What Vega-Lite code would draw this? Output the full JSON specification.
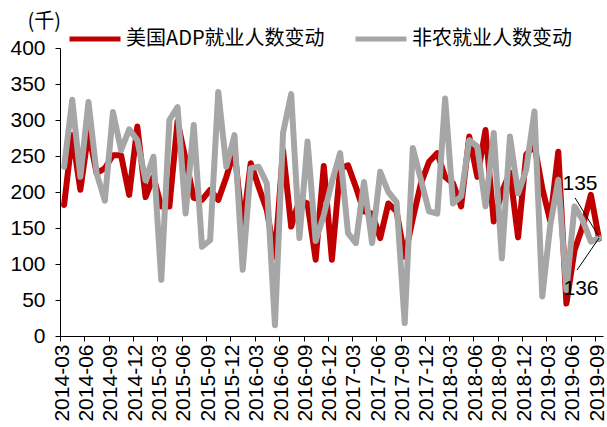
{
  "$schema": "https://vega.github.io/schema/vega-lite/v6.json",
  "width": 543,
  "height": 288,
  "autosize": {"type": "none"},
  "padding": {"left": 60, "top": 48, "right": 4, "bottom": 91},
  "background": "white",
  "config": {
    "view": {"stroke": null},
    "axis": {"labelColor": "black", "domainColor": "black", "tickColor": "black", "labelFont": "Liberation Sans", "grid": false}
  },
  "datasets": {
    "jobs": [
      {"month": "2014-03", "ADP": 182, "NFP": 235},
      {"month": "2014-04", "ADP": 279, "NFP": 328},
      {"month": "2014-05", "ADP": 203, "NFP": 221},
      {"month": "2014-06", "ADP": 283, "NFP": 325},
      {"month": "2014-07", "ADP": 226, "NFP": 226},
      {"month": "2014-08", "ADP": 233, "NFP": 188},
      {"month": "2014-09", "ADP": 251, "NFP": 311},
      {"month": "2014-10", "ADP": 251, "NFP": 258},
      {"month": "2014-11", "ADP": 196, "NFP": 287},
      {"month": "2014-12", "ADP": 291, "NFP": 272},
      {"month": "2015-01", "ADP": 193, "NFP": 216},
      {"month": "2015-02", "ADP": 221, "NFP": 249},
      {"month": "2015-03", "ADP": 180, "NFP": 78},
      {"month": "2015-04", "ADP": 180, "NFP": 300},
      {"month": "2015-05", "ADP": 298, "NFP": 318},
      {"month": "2015-06", "ADP": 245, "NFP": 170},
      {"month": "2015-07", "ADP": 192, "NFP": 293},
      {"month": "2015-08", "ADP": 189, "NFP": 124},
      {"month": "2015-09", "ADP": 203, "NFP": 133},
      {"month": "2015-10", "ADP": 189, "NFP": 339},
      {"month": "2015-11", "ADP": 221, "NFP": 235},
      {"month": "2015-12", "ADP": 258, "NFP": 279},
      {"month": "2016-01", "ADP": 150, "NFP": 92},
      {"month": "2016-02", "ADP": 240, "NFP": 233},
      {"month": "2016-03", "ADP": 207, "NFP": 235},
      {"month": "2016-04", "ADP": 175, "NFP": 212},
      {"month": "2016-05", "ADP": 110, "NFP": 15},
      {"month": "2016-06", "ADP": 258, "NFP": 282},
      {"month": "2016-07", "ADP": 152, "NFP": 336},
      {"month": "2016-08", "ADP": 189, "NFP": 136},
      {"month": "2016-09", "ADP": 184, "NFP": 270},
      {"month": "2016-10", "ADP": 106, "NFP": 132},
      {"month": "2016-11", "ADP": 236, "NFP": 168},
      {"month": "2016-12", "ADP": 106, "NFP": 214},
      {"month": "2017-01", "ADP": 233, "NFP": 254},
      {"month": "2017-02", "ADP": 237, "NFP": 143},
      {"month": "2017-03", "ADP": 207, "NFP": 129},
      {"month": "2017-04", "ADP": 173, "NFP": 214},
      {"month": "2017-05", "ADP": 170, "NFP": 129},
      {"month": "2017-06", "ADP": 136, "NFP": 228},
      {"month": "2017-07", "ADP": 184, "NFP": 200},
      {"month": "2017-08", "ADP": 173, "NFP": 186},
      {"month": "2017-09", "ADP": 110, "NFP": 18},
      {"month": "2017-10", "ADP": 163, "NFP": 261},
      {"month": "2017-11", "ADP": 212, "NFP": 217},
      {"month": "2017-12", "ADP": 242, "NFP": 173},
      {"month": "2018-01", "ADP": 254, "NFP": 170},
      {"month": "2018-02", "ADP": 221, "NFP": 330},
      {"month": "2018-03", "ADP": 212, "NFP": 184},
      {"month": "2018-04", "ADP": 180, "NFP": 194},
      {"month": "2018-05", "ADP": 277, "NFP": 272},
      {"month": "2018-06", "ADP": 221, "NFP": 263},
      {"month": "2018-07", "ADP": 286, "NFP": 180},
      {"month": "2018-08", "ADP": 159, "NFP": 282},
      {"month": "2018-09", "ADP": 200, "NFP": 108},
      {"month": "2018-10", "ADP": 227, "NFP": 277},
      {"month": "2018-11", "ADP": 137, "NFP": 198},
      {"month": "2018-12", "ADP": 252, "NFP": 231},
      {"month": "2019-01", "ADP": 265, "NFP": 312},
      {"month": "2019-02", "ADP": 205, "NFP": 55},
      {"month": "2019-03", "ADP": 160, "NFP": 153},
      {"month": "2019-04", "ADP": 256, "NFP": 217},
      {"month": "2019-05", "ADP": 45, "NFP": 64},
      {"month": "2019-06", "ADP": 119, "NFP": 180},
      {"month": "2019-07", "ADP": 152, "NFP": 161},
      {"month": "2019-08", "ADP": 196, "NFP": 131},
      {"month": "2019-09", "ADP": 135, "NFP": 136}
    ],
    "latest": [
      {"month": "2019-09", "series": "ADP", "value": 135, "label": "135"},
      {"month": "2019-09", "series": "NFP", "value": 136, "label": "136"}
    ]
  },
  "encoding": {
    "x": {
      "field": "month",
      "type": "temporal",
      "timeUnit": "utcyearmonth",
      "bandPosition": 0.5,
      "scale": {
        "type": "utc",
        "nice": false,
        "domain": [
          {"year": 2014, "month": 3, "date": 1, "utc": true},
          {"year": 2019, "month": 10, "date": 1, "utc": true}
        ]
      },
      "axis": {
        "title": null,
        "values": [
          {"year": 2014, "month": 3, "date": 1, "utc": true},
          {"year": 2014, "month": 6, "date": 1, "utc": true},
          {"year": 2014, "month": 9, "date": 1, "utc": true},
          {"year": 2014, "month": 12, "date": 1, "utc": true},
          {"year": 2015, "month": 3, "date": 1, "utc": true},
          {"year": 2015, "month": 6, "date": 1, "utc": true},
          {"year": 2015, "month": 9, "date": 1, "utc": true},
          {"year": 2015, "month": 12, "date": 1, "utc": true},
          {"year": 2016, "month": 3, "date": 1, "utc": true},
          {"year": 2016, "month": 6, "date": 1, "utc": true},
          {"year": 2016, "month": 9, "date": 1, "utc": true},
          {"year": 2016, "month": 12, "date": 1, "utc": true},
          {"year": 2017, "month": 3, "date": 1, "utc": true},
          {"year": 2017, "month": 6, "date": 1, "utc": true},
          {"year": 2017, "month": 9, "date": 1, "utc": true},
          {"year": 2017, "month": 12, "date": 1, "utc": true},
          {"year": 2018, "month": 3, "date": 1, "utc": true},
          {"year": 2018, "month": 6, "date": 1, "utc": true},
          {"year": 2018, "month": 9, "date": 1, "utc": true},
          {"year": 2018, "month": 12, "date": 1, "utc": true},
          {"year": 2019, "month": 3, "date": 1, "utc": true},
          {"year": 2019, "month": 6, "date": 1, "utc": true},
          {"year": 2019, "month": 9, "date": 1, "utc": true}
        ],
        "labelExpr": "utcFormat(datum.value, '%Y-%m')",
        "labelAngle": -90,
        "labelFontSize": 21,
        "labelPadding": 3,
        "labelOffset": 2,
        "labelOverlap": false,
        "labelFlush": false,
        "labelBound": false,
        "tickSize": 5,
        "domainWidth": 1
      }
    },
    "y": {
      "field": "value",
      "type": "quantitative",
      "scale": {"domain": [0, 400], "nice": false, "zero": true},
      "axis": {
        "values": [0, 50, 100, 150, 200, 250, 300, 350, 400],
        "title": "(千)",
        "titleAngle": 0,
        "titleX": -33,
        "titleY": -27,
        "titleAlign": "left",
        "titleBaseline": "middle",
        "titleFont": "Noto Sans CJK SC",
        "titleFontSize": 20,
        "titleFontWeight": "normal",
        "titleColor": "black",
        "labelFontSize": 21,
        "labelPadding": 10,
        "tickSize": 5,
        "labelFlush": false
      }
    }
  },
  "layer": [
    {
      "data": {"name": "jobs"},
      "transform": [{"fold": ["ADP", "NFP"], "as": ["series", "value"]}],
      "mark": {"type": "line", "strokeWidth": 6, "strokeJoin": "round", "strokeCap": "round"},
      "encoding": {
        "color": {
          "field": "series",
          "type": "nominal",
          "scale": {"domain": ["ADP", "NFP"], "range": ["#C00000", "#A6A6A6"]},
          "legend": {
            "title": null,
            "orient": "none",
            "direction": "horizontal",
            "legendX": 7,
            "legendY": -37,
            "padding": 0,
            "symbolType": "stroke",
            "symbolSize": 2601,
            "symbolStrokeWidth": 5,
            "labelOffset": 3,
            "columnPadding": 20,
            "labelLimit": 400,
            "labelFont": "Noto Sans CJK SC",
            "labelFontSize": 20,
            "labelColor": "black",
            "labelExpr": "datum.value == 'ADP' ? '美国ADP就业人数变动' : '非农就业人数变动'"
          }
        }
      }
    },
    {
      "data": {"name": "latest"},
      "transform": [{"filter": "datum.series == 'ADP'"}],
      "mark": {"type": "text", "dx": -19, "dy": -55, "font": "Liberation Sans", "fontSize": 21, "align": "center", "baseline": "middle", "color": "black"},
      "encoding": {"text": {"field": "label"}}
    },
    {
      "data": {"name": "latest"},
      "transform": [{"filter": "datum.series == 'NFP'"}],
      "mark": {"type": "text", "dx": -18, "dy": 51, "font": "Liberation Sans", "fontSize": 21, "align": "center", "baseline": "middle", "color": "black"},
      "encoding": {"text": {"field": "label"}}
    },
    {
      "data": {"name": "latest"},
      "transform": [{"filter": "datum.series == 'ADP'"}],
      "mark": {"type": "rule", "color": "black", "strokeWidth": 1, "yOffset": -2, "x2Offset": -20, "y2Offset": -41},
      "encoding": {
        "x2": {"field": "month", "timeUnit": "utcyearmonth", "bandPosition": 0.5},
        "y2": {"field": "value"}
      }
    },
    {
      "data": {"name": "latest"},
      "transform": [{"filter": "datum.series == 'NFP'"}],
      "mark": {"type": "rule", "color": "black", "strokeWidth": 1, "x2Offset": -18, "y2Offset": 32},
      "encoding": {
        "x2": {"field": "month", "timeUnit": "utcyearmonth", "bandPosition": 0.5},
        "y2": {"field": "value"}
      }
    }
  ]
}
